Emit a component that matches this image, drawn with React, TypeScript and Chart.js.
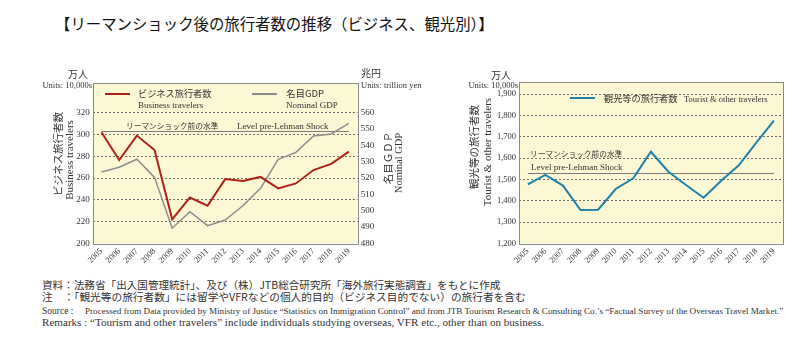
import React, { useEffect, useRef } from 'react';
import { Chart, registerables } from 'chart.js';

Chart.register(...registerables);

// ---------- data ----------
const years = ['2005', '2006', '2007', '2008', '2009', '2010', '2011', '2012', '2013', '2014', '2015', '2016', '2017', '2018', '2019'];
const businessTravelers = [302, 276.5, 299, 285.7, 222, 242, 234.5, 259, 257.2, 261, 250.5, 255, 267.3, 273, 284.2];
const nominalGdp = [523.7, 526.6, 531.5, 520.4, 489.2, 499.4, 490.8, 494.3, 503, 513.7, 531.5, 535.7, 545.7, 547, 553.5];
const touristTravelers = [1477, 1521, 1471, 1356, 1358, 1455, 1505, 1630, 1536, 1474, 1414, 1494, 1566, 1673, 1776];
const businessPreLehman = 303;
const touristPreLehman = 1529;
const businessTicks = [200, 220, 240, 260, 280, 300, 320];
const gdpTicks = [480, 490, 500, 510, 520, 530, 540, 550, 560];
const touristTicks = [1200, 1300, 1400, 1500, 1600, 1700, 1800, 1900];

// ---------- styles ----------
const RED = '#AC2219';
const GRAY = '#8C8C8C';
const BLUE = '#1F80AA';
const BG = '#FCF8D3';
const BOX = '#8A8A8A';
const GRID = '#6E6E6E';
const TXT = '#333';
const JP = "'Noto Sans CJK JP', sans-serif";
const SERIF = "'Liberation Serif', 'Noto Sans CJK JP', serif";

const plotBox = {
  id: 'plotBox',
  beforeDraw(chart: any) {
    const { ctx, chartArea: a } = chart;
    ctx.save();
    ctx.fillStyle = BG;
    ctx.fillRect(a.left, a.top, a.right - a.left, a.bottom - a.top);
    ctx.restore();
  },
  beforeDatasetsDraw(chart: any, _a: any, opts: any) {
    const { ctx } = chart;
    const x = chart.scales.x;
    const y = chart.scales[opts.axis];
    const yy = Math.round(y.getPixelForValue(opts.level)) + 0.5;
    ctx.save();
    ctx.strokeStyle = '#7C7C7C';
    ctx.lineWidth = 1;
    ctx.beginPath();
    ctx.moveTo(x.getPixelForValue(0), yy);
    ctx.lineTo(x.getPixelForValue(years.length - 1), yy);
    ctx.stroke();
    ctx.restore();
  },
  afterDraw(chart: any) {
    const { ctx, chartArea: a } = chart;
    ctx.save();
    ctx.strokeStyle = BOX;
    ctx.lineWidth = 1;
    ctx.strokeRect(Math.round(a.left) + 0.5, Math.round(a.top) + 0.5, Math.round(a.right - a.left), Math.round(a.bottom - a.top));
    ctx.restore();
  },
};

const xScale = (h: number) => ({
  offset: true,
  grid: { display: false, drawTicks: false },
  border: { display: false },
  ticks: {
    autoSkip: false,
    maxRotation: 45,
    minRotation: 45,
    padding: 3,
    color: TXT,
    font: { family: SERIF, size: 8.5 },
  },
  afterFit: (s: any) => { s.height = h; },
});

const yScale = (min: number, max: number, ticks: number[], width: number, position: string, onArea: boolean, size: number) => ({
  position,
  min,
  max,
  afterBuildTicks: (s: any) => { s.ticks = ticks.map((v) => ({ value: v })); },
  grid: {
    drawOnChartArea: onArea,
    drawTicks: false,
    lineWidth: 1,
    color: (c: any) => (c.tick && c.tick.value === min ? 'rgba(0,0,0,0)' : GRID),
  },
  border: { display: false, dash: [2, 2] },
  ticks: {
    padding: 3,
    color: TXT,
    font: { family: SERIF, size },
    callback: (v: any) => Number(v).toLocaleString('en-US'),
  },
  afterFit: (s: any) => { s.width = width; },
});

function LeftChart() {
  const ref = useRef<HTMLCanvasElement>(null);
  useEffect(() => {
    const chart = new Chart(ref.current!, {
      type: 'line',
      data: {
        labels: years,
        datasets: [
          { label: 'ビジネス旅行者数', data: businessTravelers, borderColor: RED, borderWidth: 2, pointRadius: 0, yAxisID: 'y', tension: 0 },
          { label: '名目GDP', data: nominalGdp, borderColor: GRAY, borderWidth: 1.5, pointRadius: 0, yAxisID: 'y2', tension: 0 },
        ],
      },
      options: {
        responsive: false,
        animation: false,
        layout: { padding: { top: 27.7, left: 0, right: 0, bottom: 0 } },
        plugins: {
          legend: { display: false },
          tooltip: { enabled: false },
          plotBox: { axis: 'y', level: businessPreLehman },
        } as any,
        scales: {
          x: xScale(26.7) as any,
          y: yScale(200, 347.6, businessTicks, 72.7, 'left', true, 9) as any,
          y2: yScale(480, 578.4, gdpTicks, 62.3, 'right', false, 9) as any,
        },
      },
      plugins: [plotBox as any],
    });
    return () => chart.destroy();
  }, []);
  return <canvas ref={ref} width={400} height={215} style={{ position: 'absolute', left: 20, top: 55, width: 400, height: 215 }} />;
}

function RightChart() {
  const ref = useRef<HTMLCanvasElement>(null);
  useEffect(() => {
    const chart = new Chart(ref.current!, {
      type: 'line',
      data: {
        labels: years,
        datasets: [
          { label: '観光等の旅行者数', data: touristTravelers, borderColor: BLUE, borderWidth: 2, pointRadius: 0, yAxisID: 'y', tension: 0 },
        ],
      },
      options: {
        responsive: false,
        animation: false,
        layout: { padding: { top: 26.7, left: 0, right: 17.3, bottom: 0 } },
        plugins: {
          legend: { display: false },
          tooltip: { enabled: false },
          plotBox: { axis: 'y', level: touristPreLehman },
        } as any,
        scales: {
          x: xScale(26.7) as any,
          y: yScale(1200, 1959, touristTicks, 79, 'left', true, 8.5) as any,
        },
      },
      plugins: [plotBox as any],
    });
    return () => chart.destroy();
  }, []);
  return <canvas ref={ref} width={360} height={215} style={{ position: 'absolute', left: 440, top: 55, width: 360, height: 215 }} />;
}

type TP = { x: number; y: number; s: number; f?: string; c?: string; align?: 'left' | 'right'; children: React.ReactNode; style?: React.CSSProperties };
function T({ x, y, s, f = SERIF, c = TXT, align = 'left', children, style }: TP) {
  const st: React.CSSProperties = {
    position: 'absolute',
    top: y,
    fontSize: s,
    fontFamily: f,
    color: c,
    lineHeight: 1,
    whiteSpace: 'nowrap',
    transform: 'translateY(-50%)',
    ...(align === 'left' ? { left: x } : { right: 800 - x }),
    ...style,
  };
  return <div style={st}>{children}</div>;
}

function V({ x, y, s, f = SERIF, c = TXT, children }: TP) {
  return (
    <div
      style={{
        position: 'absolute',
        left: x,
        top: y,
        fontSize: s,
        fontFamily: f,
        color: c,
        lineHeight: 1,
        whiteSpace: 'nowrap',
        transform: 'translate(-50%, -50%) rotate(-90deg)',
      }}
    >
      {children}
    </div>
  );
}

function Swatch({ x, y, w, color, h = 2 }: { x: number; y: number; w: number; color: string; h?: number }) {
  return <div style={{ position: 'absolute', left: x, top: y - h / 2, width: w, height: h, background: color }} />;
}

export default function App() {
  return (
    <div style={{ position: 'fixed', left: 0, top: 0, width: 800, height: 351, background: '#fff', overflow: 'hidden' }}>
      <T x={55} y={24} s={15.4} f={JP} c="#111">【リーマンショック後の旅行者数の推移（ビジネス、観光別）】</T>

      <LeftChart />
      <RightChart />

      {/* left chart texts */}
      <T x={88} y={74} s={10} f={JP} align="right">万人</T>
      <T x={92} y={85} s={8.5} align="right">Units: 10,000s</T>
      <T x={361} y={73} s={10} f={JP}>兆円</T>
      <T x={361} y={85} s={8.5}>Units: trillion yen</T>
      <V x={58} y={154} s={10.5} f={JP}>ビジネス旅行者数</V>
      <V x={69} y={160} s={11}>Business travelers</V>
      <V x={388} y={158} s={10.5} f={JP}>名目ＧＤＰ</V>
      <V x={399} y={163} s={10.5}>Nominal GDP</V>

      <Swatch x={105} y={94} w={25} color={RED} />
      <T x={138} y={94} s={9.2} f={JP}>ビジネス旅行者数</T>
      <T x={138} y={105} s={9}>Business travelers</T>
      <Swatch x={252} y={94} w={25} color={GRAY} h={1.5} />
      <T x={286} y={94} s={9.5} f={JP}>名目GDP</T>
      <T x={286} y={105} s={9}>Nominal GDP</T>

      <T x={126} y={125.5} s={7.7} f={JP}>リーマンショック前の水準</T>
      <T x={237} y={125.5} s={9}>Level pre-Lehman Shock</T>

      {/* right chart texts */}
      <T x={511} y={75} s={10} f={JP} align="right">万人</T>
      <T x={518} y={85} s={8.5} align="right">Units: 10,000s</T>
      <V x={474} y={147} s={10.5} f={JP}>観光等の旅行者数</V>
      <V x={487} y={152} s={11}>Tourist &amp; other travelers</V>

      <Swatch x={570} y={98.3} w={25} color={BLUE} />
      <T x={604} y={99} s={9.2} f={JP}>観光等の旅行者数</T>
      <T x={684} y={99} s={8.5}>Tourist &amp; other travelers</T>

      <T x={530} y={154} s={7.7} f={JP}>リーマンショック前の水準</T>
      <T x={531} y={167} s={9}>Level pre-Lehman Shock</T>

      {/* footnotes */}
      <T x={42} y={285} s={10.6} f={JP}>資料：法務省「出入国管理統計」、及び（株）JTB総合研究所「海外旅行実態調査」をもとに作成</T>
      <T x={42} y={297.3} s={10.7} f={JP}>注　：「観光等の旅行者数」には留学やVFRなどの個人的目的（ビジネス目的でない）の旅行者を含む</T>
      <T x={42} y={312.3} s={9.5}>Source :</T>
      <T x={85} y={312.3} s={9.1}>Processed from Data provided by Ministry of Justice “Statistics on Immigration Control” and from JTB Tourism Research &amp; Consulting Co.’s “Factual Survey of the Overseas Travel Market.”</T>
      <T x={42} y={322.8} s={11.1}>Remarks : “Tourism and other travelers” include individuals studying overseas, VFR etc., other than on business.</T>
    </div>
  );
}
